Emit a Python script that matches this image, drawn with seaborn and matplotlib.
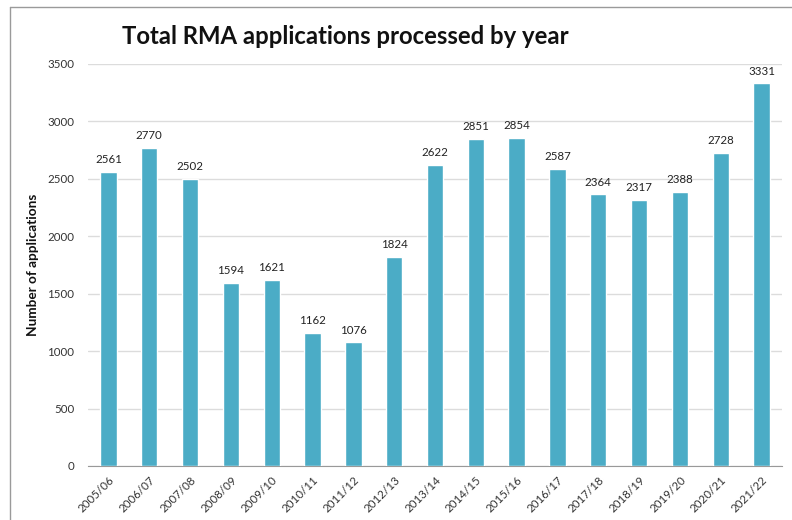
import matplotlib
matplotlib.use("Agg")
import matplotlib.pyplot as plt
import seaborn as sns
import pandas as pd
from matplotlib.lines import Line2D

years = ["2005/06", "2006/07", "2007/08", "2008/09", "2009/10", "2010/11", "2011/12",
         "2012/13", "2013/14", "2014/15", "2015/16", "2016/17", "2017/18", "2018/19",
         "2019/20", "2020/21", "2021/22"]
applications = [2561, 2770, 2502, 1594, 1621, 1162, 1076, 1824, 2622, 2851, 2854,
                2587, 2364, 2317, 2388, 2728, 3331]
yticks = [0, 500, 1000, 1500, 2000, 2500, 3000, 3500]

df = pd.DataFrame({"year": years, "apps": applications})

sns.set_theme(style="white")
plt.rcParams["font.family"] = ["Lato", "DejaVu Sans"]

fig = plt.figure(figsize=(7.92, 5.2), dpi=100)
ax = fig.add_axes([88/792, 1-466/520, (782-88)/792, (466-64)/520])

sns.barplot(data=df, x="year", y="apps", color="#4BACC6", width=0.4, saturation=1,
            ax=ax, zorder=3)

ax.set_ylim(0, 3500)
ax.set_yticks(yticks)
ax.set_yticklabels([str(t) for t in yticks], fontsize=8.3, color="#333333")
ax.set_xlim(-0.5, len(years) - 0.5)
ax.set_xticks(range(len(years)))
ax.set_xticklabels(years, rotation=45, ha="right", rotation_mode="anchor",
                   fontsize=8.3, color="#333333")
ax.tick_params(axis="x", length=0, pad=6)
ax.tick_params(axis="y", length=0, pad=10)

# minor ticks at category boundaries
ax.set_xticks([i - 0.5 for i in range(len(years) + 1)], minor=True)
ax.tick_params(axis="x", which="minor", length=4, color="#999999", width=0.8)

ax.grid(axis="y", color="#dcdcdc", linewidth=1, zorder=0)
for s in ["left", "right", "top"]:
    ax.spines[s].set_visible(False)
ax.spines["bottom"].set_color("#999999")
ax.spines["bottom"].set_linewidth(0.8)

for i, v in enumerate(applications):
    ax.text(i, v + 60, str(v), ha="center", va="bottom", fontsize=8.3, color="#222222")

ax.set_xlabel("")
ax.set_ylabel("Number of applications", fontsize=9.8, fontweight="bold", color="#111111",
              labelpad=6)

fig.text(122/792, 1-37/520, "Total RMA applications processed by year",
         fontsize=17.2, fontweight="bold", color="#111111", ha="left", va="center")

# outer frame (top and left edges)
fig.add_artist(Line2D([10/792, 1], [1-7/520, 1-7/520], transform=fig.transFigure,
                      color="#9a9a9a", linewidth=1))
fig.add_artist(Line2D([10/792, 10/792], [0, 1-7/520], transform=fig.transFigure,
                      color="#9a9a9a", linewidth=1))

fig.savefig("out.png", dpi=100)
